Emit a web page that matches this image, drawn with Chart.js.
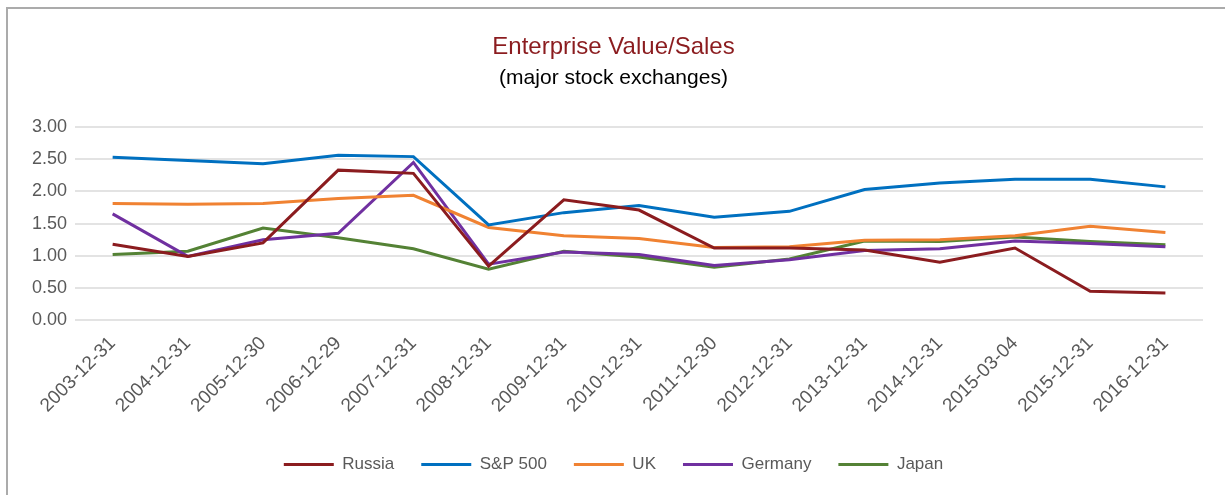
<!DOCTYPE html>
<html>
<head>
<meta charset="utf-8">
<script src="https://cdn.jsdelivr.net/npm/chart.js@4/dist/chart.umd.min.js"></script>
<style>
  body { margin: 0; background: #fff; }
  #frame { position: absolute; left: 6px; top: 7px; width: 1219px; height: 488px;
           border-top: 2px solid #ABABAB; border-left: 2px solid #ABABAB; }
  canvas { position: absolute; left: 0; top: 0; }
</style>
</head>
<body>
<div id="frame"></div>
<canvas id="chart" width="1225" height="495"></canvas>
<script>
const labels = ["2003-12-31", "2004-12-31", "2005-12-30", "2006-12-29", "2007-12-31",
  "2008-12-31", "2009-12-31", "2010-12-31", "2011-12-30", "2012-12-31", "2013-12-31",
  "2014-12-31", "2015-03-04", "2015-12-31", "2016-12-31"];

const russia  = [1.18, 0.99, 1.20, 2.33, 2.28, 0.84, 1.87, 1.71, 1.12, 1.12, 1.09, 0.90, 1.12, 0.45, 0.42];
const sp500   = [2.53, 2.48, 2.43, 2.56, 2.54, 1.48, 1.67, 1.78, 1.60, 1.69, 2.03, 2.13, 2.19, 2.19, 2.07];
const uk      = [1.81, 1.80, 1.81, 1.89, 1.94, 1.44, 1.31, 1.27, 1.13, 1.14, 1.24, 1.25, 1.31, 1.46, 1.36];
const germany = [1.65, 0.99, 1.25, 1.35, 2.45, 0.87, 1.06, 1.02, 0.85, 0.94, 1.08, 1.11, 1.23, 1.19, 1.14];
const japan   = [1.02, 1.07, 1.43, 1.28, 1.11, 0.79, 1.07, 0.98, 0.82, 0.95, 1.23, 1.22, 1.29, 1.22, 1.17];

const font = "'Liberation Sans', Arial, sans-serif";

function line(label, data, color) {
  return {
    label: label,
    data: data,
    borderColor: color,
    backgroundColor: color,
    borderWidth: 3,
    pointRadius: 0,
    tension: 0,
    pointStyle: "line",
  };
}

new Chart(document.getElementById("chart").getContext("2d"), {
  type: "line",
  data: {
    labels: labels,
    datasets: [
      line("Russia", russia, "#8B1C1F"),
      line("S&P 500", sp500, "#0070C0"),
      line("UK", uk, "#F08232"),
      line("Germany", germany, "#7030A0"),
      line("Japan", japan, "#548235"),
    ],
  },
  options: {
    responsive: false,
    animation: false,
    layout: { padding: { left: 24, right: 22, top: 18, bottom: 12 } },
    plugins: {
      title: {
        display: true,
        text: "Enterprise Value/Sales",
        color: "#8B1C1F",
        font: { family: font, size: 24, weight: "normal" },
        padding: { top: 15, bottom: 4 },
      },
      subtitle: {
        display: true,
        text: "(major stock exchanges)",
        color: "#000",
        font: { family: font, size: 21, weight: "normal" },
        padding: { bottom: 36 },
      },
      legend: {
        position: "bottom",
        labels: {
          usePointStyle: true,
          pointStyleWidth: 50,
          boxHeight: 10,
          color: "#595959",
          padding: 27,
          font: { family: font, size: 17 },
        },
      },
      tooltip: { enabled: false },
    },
    scales: {
      x: {
        offset: true,
        grid: { display: false },
        border: { display: false },
        afterFit: (scale) => { scale.height += 8; },
        ticks: {
          color: "#595959",
          minRotation: 45,
          maxRotation: 45,
          padding: 4,
          font: { family: font, size: 19 },
        },
      },
      y: {
        min: 0,
        max: 3,
        border: { display: false },
        grid: { color: "#E3E3E3", lineWidth: 2, drawTicks: false },
        ticks: {
          stepSize: 0.5,
          color: "#595959",
          padding: 8,
          font: { family: font, size: 18 },
          callback: (v) => v.toFixed(2),
        },
      },
    },
  },
});
</script>
</body>
</html>
